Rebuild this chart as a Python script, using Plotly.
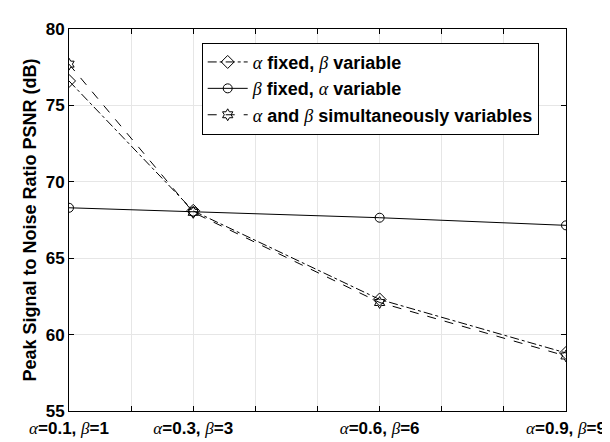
import plotly.graph_objects as go

alpha_vals = [0.1, 0.3, 0.6, 0.9]
beta_vals = [1, 3, 6, 9]
alpha_fixed = [76.6, 68.1, 62.3, 58.8]
beta_fixed = [68.3, 68.05, 67.65, 67.15]
both_var = [77.7, 68.0, 62.1, 58.6]
grid_vals = [0.1, 0.2, 0.3, 0.4, 0.5, 0.6, 0.7, 0.8, 0.9]

GREEK = "font-family:'Liberation Serif';font-weight:normal"
def g(s):
    return f"<span style=\"{GREEK}\"><i>{s}</i></span>"

names = [f"{g('α')} fixed, {g('β')} variable",
         f"{g('β')} fixed, {g('α')} variable",
         f"{g('α')} and {g('β')} simultaneously variables"]

fig = go.Figure()
fig.add_trace(go.Scatter(x=alpha_vals, y=alpha_fixed, name=names[0], mode="lines+markers",
                         line=dict(color="black", width=1, dash="dashdot"),
                         marker=dict(symbol="diamond-open", size=10, color="black", line=dict(width=1))))
fig.add_trace(go.Scatter(x=alpha_vals, y=beta_fixed, name=names[1], mode="lines+markers",
                         line=dict(color="black", width=1, dash="solid"),
                         marker=dict(symbol="circle-open", size=9, color="black", line=dict(width=1))))
fig.add_trace(go.Scatter(x=alpha_vals, y=both_var, name=names[2], mode="lines+markers",
                         line=dict(color="black", width=1, dash="dash"),
                         marker=dict(symbol="hexagram-open", size=9, color="black", line=dict(width=1))))

labels_full = []
for t in grid_vals:
    lab = ""
    for a, b in zip(alpha_vals, beta_vals):
        if abs(a - t) < 1e-9:
            lab = f"{g('α')}={a}, {g('β')}={b}"
    labels_full.append(lab)

fig.update_layout(
    width=610, height=442,
    margin=dict(l=61, r=43, t=13, b=35),
    paper_bgcolor="white", plot_bgcolor="white",
    font=dict(family="Liberation Sans", size=17, color="black", weight="bold"),
    showlegend=True,
    legend=dict(x=0.267, y=0.964, xanchor="left", yanchor="top",
                bordercolor="black", borderwidth=1, bgcolor="white",
                font=dict(size=18, family="Liberation Sans", weight="bold"),
                tracegroupgap=0, itemwidth=40),
    xaxis=dict(range=[0.1, 0.9], tickvals=grid_vals, ticktext=labels_full,
               showgrid=True, gridcolor="#e6e6e6", gridwidth=1,
               ticks="inside", ticklen=5, tickcolor="black",
               showline=True, linecolor="black", linewidth=1, mirror="ticks",
               zeroline=False, tickfont=dict(size=17, weight="bold"), ticklabelstandoff=2),
    yaxis=dict(range=[55, 80], dtick=5, tick0=55,
               showgrid=True, gridcolor="#e6e6e6", gridwidth=1,
               ticks="inside", ticklen=5, tickcolor="black",
               showline=True, linecolor="black", linewidth=1, mirror="ticks",
               zeroline=False, tickfont=dict(size=17, weight="bold"),
               title=dict(text="Peak Signal to Noise Ratio PSNR (dB)",
                          font=dict(size=18, weight="bold"), standoff=4)),
)

fig.write_html("out.html")
